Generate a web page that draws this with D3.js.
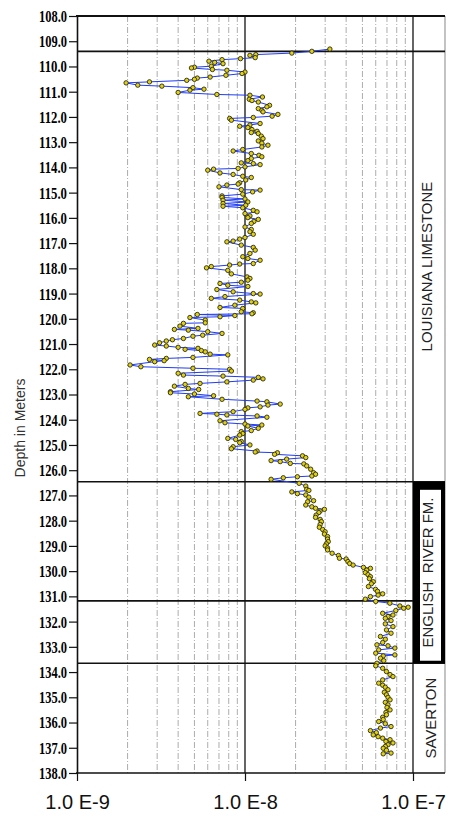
<!DOCTYPE html>
<html>
<head>
<meta charset="utf-8">
<script src="https://cdn.jsdelivr.net/npm/d3@7"></script>
<style>
body { margin: 0; background: #fff; }
</style>
</head>
<body>
<svg id="plotCanvas" width="453" height="816"></svg>
<script>
var depths = [
    109.31,109.40,109.47,109.53,109.56,109.65,109.69,109.73,109.79,109.84,
    109.89,109.99,110.03,110.06,110.12,110.15,110.22,110.28,110.35,110.42,
    110.46,110.51,110.55,110.61,110.65,110.74,110.78,110.84,110.90,110.94,
    111.03,111.11,111.14,111.21,111.30,111.35,111.41,111.54,111.60,111.67,
    111.74,111.80,111.90,111.97,112.02,112.06,112.13,112.26,112.32,112.37,
    112.42,112.50,112.57,112.62,112.66,112.76,112.86,112.95,113.04,113.12,
    113.19,113.29,113.35,113.45,113.52,113.58,113.65,113.73,113.82,113.85,
    113.89,113.98,114.04,114.07,114.11,114.22,114.28,114.35,114.40,114.50,
    114.61,114.66,114.70,114.77,114.88,114.90,114.97,115.06,115.13,115.19,
    115.25,115.30,115.37,115.43,115.50,115.54,115.60,115.70,115.76,115.83,
    115.92,115.99,116.06,116.14,116.22,116.36,116.46,116.55,116.65,116.78,
    116.84,116.92,116.95,117.08,117.17,117.28,117.41,117.54,117.61,117.68,
    117.81,117.83,117.87,117.93,117.98,118.08,118.22,118.34,118.40,118.47,
    118.55,118.60,118.67,118.72,118.84,118.93,119.00,119.02,119.12,119.19,
    119.26,119.33,119.37,119.46,119.55,119.59,119.72,119.76,119.80,119.83,
    119.87,119.92,119.95,120.05,120.16,120.18,120.29,120.38,120.42,120.45,
    120.51,120.58,120.65,120.69,120.78,120.83,120.88,120.95,121.04,121.08,
    121.13,121.17,121.21,121.26,121.31,121.40,121.43,121.53,121.57,121.61,
    121.66,121.70,121.83,121.90,121.96,122.00,122.07,122.16,122.23,122.27,
    122.32,122.38,122.43,122.50,122.56,122.60,122.67,122.76,122.80,122.89,
    122.93,122.98,123.05,123.09,123.19,123.26,123.29,123.38,123.42,123.49,
    123.53,123.59,123.68,123.75,123.78,123.81,123.85,123.90,124.04,124.12,
    124.17,124.21,124.25,124.34,124.43,124.47,124.55,124.61,124.74,124.78,
    124.86,124.91,125.00,125.07,125.15,125.24,125.28,125.31,125.37,125.43,
    125.50,125.56,125.62,125.66,125.73,125.75,125.83,125.96,126.10,126.16,
    126.23,126.26,126.30,126.36,126.52,126.63,126.76,126.80,126.86,126.93,
    126.98,127.07,127.21,127.25,127.38,127.45,127.51,127.55,127.62,127.68,
    127.78,127.87,127.95,128.04,128.15,128.26,128.35,128.44,128.53,128.63,
    128.73,128.83,128.92,129.00,129.08,129.16,129.29,129.38,129.49,129.52,
    129.62,129.70,129.76,129.85,129.89,129.96,130.06,130.14,130.22,130.30,
    130.42,130.50,130.61,130.72,130.80,130.90,130.95,131.01,131.11,131.20,
    131.27,131.38,131.43,131.47,131.56,131.67,131.74,131.80,131.87,131.96,
    132.09,132.20,132.33,132.46,132.59,132.70,132.83,132.92,132.96,133.05,
    133.12,133.25,133.32,133.36,133.45,133.55,133.65,133.75,133.85,133.98,
    134.10,134.18,134.31,134.44,134.52,134.60,134.70,134.80,134.90,135.00,
    135.10,135.20,135.30,135.40,135.50,135.60,135.69,135.79,135.88,135.96,
    136.05,136.16,136.22,136.32,136.40,136.49,136.56,136.62,136.68,136.75,
    136.81,136.88,136.95,137.02,137.10,137.21,137.24
];

var kValues = [
    3.2e-8,2.5e-8,1.9e-8,1.16e-8,1.07e-8,1.15e-8,9.4e-9,7.3e-9,6.1e-9,6.6e-9,
    7.4e-9,6.3e-9,5.0e-9,4.8e-9,6.4e-9,7.8e-9,1.0e-8,9.6e-9,7.7e-9,6.2e-9,
    5.2e-9,5.0e-9,4.5e-9,2.7e-9,1.96e-9,2.3e-9,3.2e-9,4.9e-9,5.7e-9,4.7e-9,
    4.0e-9,6.8e-9,1.07e-8,1.27e-8,1.06e-8,1.1e-8,1.2e-8,1.4e-8,1.35e-8,1.2e-8,
    1.26e-8,1.28e-8,1.57e-8,1.45e-8,1.12e-8,8.1e-9,8.3e-9,1.23e-8,1.07e-8,9.3e-9,
    1.04e-8,1.1e-8,1.18e-8,1.09e-8,1.2e-8,1.25e-8,1.28e-8,1.2e-8,1.26e-8,1.37e-8,
    1.26e-8,9.7e-9,8.5e-9,1.09e-8,1.21e-8,1.26e-8,1.09e-8,1.04e-8,9.5e-9,1.12e-8,
    1.23e-8,1.0e-8,9.1e-9,6.5e-9,6.0e-9,7.1e-9,8.5e-9,9.7e-9,1.09e-8,1.01e-8,
    9.3e-9,9.1e-9,7.8e-9,7.0e-9,9.5e-9,1.23e-8,1.11e-8,9.7e-9,7.3e-9,7.3e-9,
    1.0e-8,7.4e-9,1.04e-8,7.4e-9,1.01e-8,7.4e-9,9.7e-9,1.12e-8,1.18e-8,1.0e-8,
    1.07e-8,1.04e-8,1.2e-8,1.13e-8,1.09e-8,1.0e-8,1.09e-8,1.07e-8,1.12e-8,1.0e-8,
    9.3e-9,8.5e-9,7.8e-9,9.5e-9,1.12e-8,1.15e-8,1.07e-8,9.7e-9,1.04e-8,1.23e-8,
    1.12e-8,9.3e-9,8.1e-9,6.3e-9,5.9e-9,7.9e-9,8.3e-9,1.03e-8,1.07e-8,1.04e-8,
    9.5e-9,7.1e-9,7.9e-9,1.04e-8,6.8e-9,8.5e-9,1.12e-8,1.23e-8,7.6e-9,6.3e-9,
    9.3e-9,1.09e-8,1.16e-8,8.7e-9,7.1e-9,9.7e-9,9.5e-9,1.12e-8,1.1e-8,5.2e-9,
    8.7e-9,7.1e-9,4.7e-9,5.8e-9,5.8e-9,4.3e-9,4.1e-9,5.25e-9,3.8e-9,4.6e-9,
    6.0e-9,7.3e-9,5.6e-9,4.9e-9,4.3e-9,3.7e-9,3.4e-9,3.1e-9,2.9e-9,3.4e-9,
    4.0e-9,5.25e-9,4.4e-9,5.5e-9,5.8e-9,6.2e-9,7.9e-9,4.9e-9,3.4e-9,2.7e-9,
    3.3e-9,2.9e-9,2.07e-9,2.4e-9,4.9e-9,8.1e-9,8.3e-9,4.0e-9,4.3e-9,7.4e-9,
    1.2e-8,1.28e-8,1.12e-8,7.8e-9,5.4e-9,4.4e-9,3.8e-9,4.6e-9,5.3e-9,3.6e-9,
    3.6e-9,5.0e-9,6.5e-9,4.6e-9,7.3e-9,1.18e-8,1.35e-8,1.62e-8,1.37e-8,1.23e-8,
    1.04e-8,1.0e-8,8.5e-9,5.4e-9,6.8e-9,7.8e-9,1.18e-8,1.35e-8,7.1e-9,7.6e-9,
    1.0e-8,1.26e-8,1.04e-8,1.2e-8,1.09e-8,9.5e-9,9.7e-9,9.3e-9,7.9e-9,8.8e-9,
    9.5e-9,9.3e-9,1.07e-8,8.5e-9,8.3e-9,1.18e-8,1.15e-8,1.56e-8,1.5e-8,2.2e-8,
    2.3e-8,1.77e-8,1.43e-8,1.62e-8,1.86e-8,2.24e-8,2.33e-8,2.46e-8,2.56e-8,2.63e-8,
    2.5e-8,2.05e-8,1.69e-8,1.43e-8,2.1e-8,2.3e-8,2.33e-8,2.4e-8,1.9e-8,2.05e-8,
    2.3e-8,2.4e-8,2.56e-8,2.36e-8,2.3e-8,2.5e-8,2.63e-8,2.97e-8,2.8e-8,2.75e-8,
    2.65e-8,2.63e-8,2.8e-8,2.85e-8,2.8e-8,2.77e-8,2.9e-8,3.0e-8,2.97e-8,3.1e-8,
    3.1e-8,3.13e-8,3.05e-8,3.0e-8,3.1e-8,3.1e-8,3.3e-8,3.6e-8,3.65e-8,4.0e-8,
    4.1e-8,4.2e-8,4.4e-8,5.07e-8,5.58e-8,5.3e-8,5.2e-8,5.4e-8,5.58e-8,5.5e-8,
    5.8e-8,5.65e-8,5.43e-8,5.98e-8,6.15e-8,6.6e-8,6.2e-8,5.58e-8,5.2e-8,6.0e-8,
    7.28e-8,8.35e-8,9.36e-8,8.8e-8,7.9e-8,6.6e-8,7.6e-8,7.1e-8,6.84e-8,7.4e-8,
    6.84e-8,7.6e-8,6.95e-8,7.4e-8,6.4e-8,6.84e-8,6.6e-8,6.1e-8,7.1e-8,7.8e-8,
    6.25e-8,6.0e-8,7.8e-8,6.65e-8,6.4e-8,6.7e-8,6.1e-8,6.0e-8,6.6e-8,6.95e-8,
    7.3e-8,7.6e-8,6.6e-8,6.25e-8,6.6e-8,6.84e-8,7.1e-8,6.75e-8,6.95e-8,7.1e-8,
    7.3e-8,6.84e-8,7.1e-8,7.0e-8,7.3e-8,6.9e-8,6.95e-8,6.6e-8,6.65e-8,6.25e-8,
    6.84e-8,7.4e-8,6.4e-8,5.58e-8,6.05e-8,5.8e-8,6.2e-8,6.6e-8,7.3e-8,6.9e-8,
    7.6e-8,7.1e-8,6.84e-8,6.65e-8,6.95e-8,7.4e-8,6.65e-8
];

var majorTicks = [1e-9, 1e-8, 1e-7];
var majorTickLabels = ["1.0 E-9", "1.0 E-8", "1.0 E-7"];
var minorGrid = [2e-9,3e-9,4e-9,5e-9,6e-9,7e-9,8e-9,9e-9,
                 2e-8,3e-8,4e-8,5e-8,6e-8,7e-8,8e-8,9e-8];
var depthTicks = d3.range(108, 138.01, 1);

var formationTops = [109.4, 126.46, 133.65];
var formationBases = [126.46, 133.65, 138.0];
var formationNames = ["LOUISIANA LIMESTONE", "ENGLISH\u00a0 RIVER FM.", "SAVERTON"];
var innerBoundaries = [131.18];

var plotLeft = 77, plotRight = 413, plotTop = 16, plotBottom = 773;
var panelRight = 445;

var canvas = d3.select("#plotCanvas");

var x = d3.scaleLog().domain([1e-9, 1e-7]).range([plotLeft, plotRight]);
var y = d3.scaleLinear().domain([108, 138]).range([plotTop, plotBottom]);

// minor log grid
canvas.append("g").selectAll("line")
    .data(minorGrid)
    .enter().append("line")
    .attr("x1", function(d) { return x(d); })
    .attr("x2", function(d) { return x(d); })
    .attr("y1", plotTop)
    .attr("y2", plotBottom)
    .attr("stroke", "#a3a3a3")
    .attr("stroke-width", 0.9)
    .attr("stroke-dasharray", "6,2,1,2");

// decade line at 1e-8 and right edge at 1e-7
canvas.append("g").selectAll("line")
    .data(majorTicks.slice(1))
    .enter().append("line")
    .attr("x1", function(d) { return x(d); })
    .attr("x2", function(d) { return x(d); })
    .attr("y1", plotTop)
    .attr("y2", plotBottom)
    .attr("stroke", "#111")
    .attr("stroke-width", 1.3);

// formation panel frame
canvas.append("line")
    .attr("x1", panelRight).attr("x2", panelRight)
    .attr("y1", plotTop).attr("y2", plotBottom)
    .attr("stroke", "#9a9a9a")
    .attr("stroke-width", 1.2);

canvas.append("line")
    .attr("x1", plotLeft - 1).attr("x2", panelRight)
    .attr("y1", plotTop).attr("y2", plotTop)
    .attr("stroke", "#111")
    .attr("stroke-width", 2);

canvas.append("line")
    .attr("x1", plotLeft - 1).attr("x2", panelRight)
    .attr("y1", plotBottom).attr("y2", plotBottom)
    .attr("stroke", "#111")
    .attr("stroke-width", 1.6);

// formation boundaries
canvas.append("g").selectAll("line")
    .data(formationTops)
    .enter().append("line")
    .attr("x1", plotLeft)
    .attr("x2", panelRight)
    .attr("y1", function(d) { return y(d); })
    .attr("y2", function(d) { return y(d); })
    .attr("stroke", "#111")
    .attr("stroke-width", 1.6);

canvas.append("g").selectAll("line")
    .data(innerBoundaries)
    .enter().append("line")
    .attr("x1", plotLeft)
    .attr("x2", plotRight)
    .attr("y1", function(d) { return y(d); })
    .attr("y2", function(d) { return y(d); })
    .attr("stroke", "#111")
    .attr("stroke-width", 1.6);

// English River box, heavy black frame
canvas.append("rect")
    .attr("x", plotRight)
    .attr("y", y(formationTops[1]))
    .attr("width", panelRight - plotRight)
    .attr("height", y(formationBases[1]) - y(formationTops[1]))
    .attr("fill", "#000");

canvas.append("rect")
    .attr("x", plotRight + 7)
    .attr("y", y(formationTops[1]) + 8)
    .attr("width", panelRight - plotRight - 11)
    .attr("height", y(formationBases[1]) - y(formationTops[1]) - 10.5)
    .attr("fill", "#fff");

// formation names
canvas.append("g").selectAll("text")
    .data(formationNames)
    .enter().append("text")
    .attr("transform", function(d, i) {
        var cy = (y(formationTops[i]) + y(formationBases[i])) / 2;
        var bx = i == 0 ? 432 : (i == 1 ? 433 : 436);
        return "translate(" + bx + "," + cy + ") rotate(-90)";
    })
    .attr("text-anchor", "middle")
    .attr("font-family", "Liberation Sans, Arial, sans-serif")
    .attr("font-size", "15px")
    .attr("fill", "#222")
    .text(function(d) { return d; });

// profile line and points
var idx = d3.range(depths.length);

var line = d3.line()
    .x(function(i) { return x(kValues[i]); })
    .y(function(i) { return y(depths[i]); });

canvas.append("path")
    .datum(idx)
    .attr("d", line)
    .attr("fill", "none")
    .attr("stroke", "#1f3cf5")
    .attr("stroke-width", 1);

canvas.append("g").selectAll("circle")
    .data(idx)
    .enter().append("circle")
    .attr("cx", function(i) { return x(kValues[i]); })
    .attr("cy", function(i) { return y(depths[i]); })
    .attr("r", 2.2)
    .attr("fill", "#e3d20a")
    .attr("stroke", "#2a2a18")
    .attr("stroke-width", 0.9);

// depth axis
var yAxis = d3.axisLeft(y)
    .tickValues(depthTicks)
    .tickFormat(d3.format(".1f"))
    .tickSize(8)
    .tickSizeOuter(0)
    .tickPadding(2);

var yg = canvas.append("g")
    .attr("transform", "translate(" + plotLeft + ",0)")
    .call(yAxis);

yg.select(".domain").attr("stroke", "#111").attr("stroke-width", 1.6);
yg.selectAll(".tick line").attr("stroke", "#111").attr("stroke-width", 1.2);
yg.selectAll(".tick text")
    .attr("font-family", "Liberation Serif, Times New Roman, serif")
    .attr("font-weight", "bold")
    .attr("font-size", "17px")
    .attr("fill", "#000")
    .attr("textLength", 28)
    .attr("lengthAdjust", "spacingAndGlyphs");

// value axis
var xAxis = d3.axisBottom(x)
    .tickValues(majorTicks)
    .tickFormat(function(d, i) { return majorTickLabels[i]; })
    .tickSize(8)
    .tickSizeOuter(0);

var xg = canvas.append("g")
    .attr("transform", "translate(0," + plotBottom + ")")
    .call(xAxis);

xg.select(".domain").remove();
xg.selectAll(".tick line").attr("stroke", "#111").attr("stroke-width", 1.2);
xg.selectAll(".tick text")
    .attr("y", 22)
    .attr("font-family", "Liberation Sans, Arial, sans-serif")
    .attr("font-weight", "normal")
    .attr("font-size", "20px")
    .attr("fill", "#111");

canvas.append("text")
    .attr("transform", "translate(25,428) rotate(-90)")
    .attr("text-anchor", "middle")
    .attr("font-family", "Liberation Sans, Arial, sans-serif")
    .attr("font-size", "14px")
    .attr("fill", "#333")
    .text("Depth in Meters");
</script>
</body>
</html>
